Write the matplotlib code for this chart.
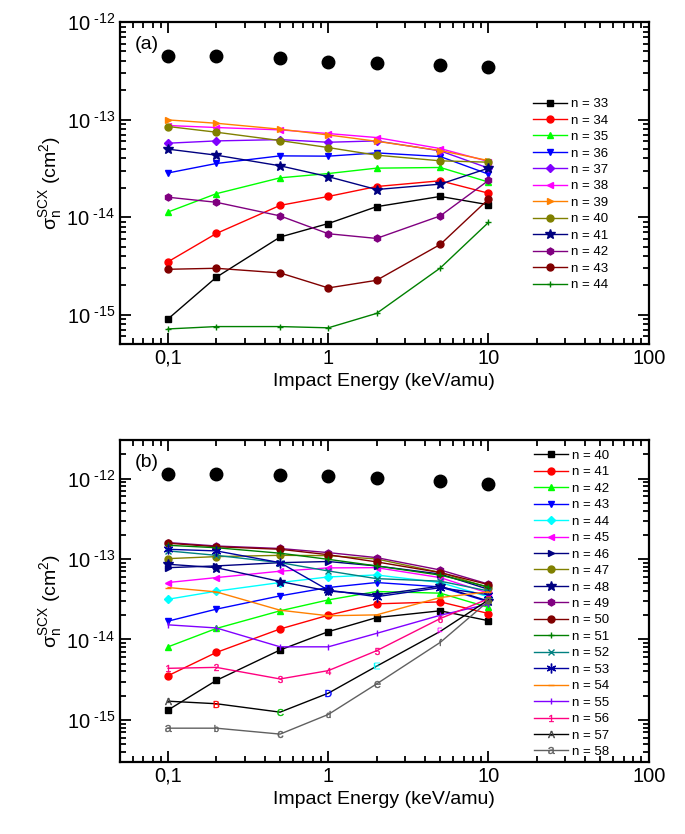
import math
import matplotlib
matplotlib.use('Agg')
import matplotlib.pyplot as plt
from matplotlib.ticker import FixedLocator, LogLocator, NullFormatter, FuncFormatter

plt.rcParams['font.family'] = ['Liberation Sans', 'DejaVu Sans']
plt.rcParams['mathtext.fontset'] = 'custom'
plt.rcParams['mathtext.rm'] = 'Liberation Sans'
plt.rcParams['mathtext.it'] = 'Liberation Sans:italic'
plt.rcParams['mathtext.bf'] = 'Liberation Sans:bold'

energy = [0.1, 0.2, 0.5, 1, 2, 5, 10]

# panel (a): total and n-resolved cross sections
total_a = [4.5e-13, 4.5e-13, 4.28e-13, 3.9e-13, 3.8e-13, 3.63e-13, 3.46e-13]
n_a = [33, 34, 35, 36, 37, 38, 39, 40, 41, 42, 43, 44]
vals_a = [
    [9.05e-16, 2.42e-15, 6.25e-15, 8.6e-15, 1.28e-14, 1.63e-14, 1.34e-14],
    [3.49e-15, 6.8e-15, 1.32e-14, 1.63e-14, 2.06e-14, 2.36e-14, 1.76e-14],
    [1.13e-14, 1.74e-14, 2.53e-14, 2.8e-14, 3.18e-14, 3.23e-14, 2.29e-14],
    [2.84e-14, 3.55e-14, 4.25e-14, 4.22e-14, 4.56e-14, 4.18e-14, 2.76e-14],
    [5.73e-14, 6.05e-14, 6.24e-14, 5.86e-14, 6.05e-14, 4.78e-14, 3.18e-14],
    [8.7e-14, 8.3e-14, 7.85e-14, 7.2e-14, 6.55e-14, 5.05e-14, 3.72e-14],
    [9.93e-14, 9.18e-14, 7.98e-14, 6.96e-14, 6.0e-14, 4.82e-14, 3.8e-14],
    [8.5e-14, 7.43e-14, 6.1e-14, 5.17e-14, 4.32e-14, 3.78e-14, 3.66e-14],
    [4.98e-14, 4.32e-14, 3.36e-14, 2.6e-14, 1.92e-14, 2.18e-14, 3.18e-14],
    [1.6e-14, 1.42e-14, 1.03e-14, 6.76e-15, 6.05e-15, 1.03e-14, 2.38e-14],
    [2.92e-15, 2.99e-15, 2.68e-15, 1.88e-15, 2.25e-15, 5.25e-15, 1.53e-14],
    [7.14e-16, 7.55e-16, 7.55e-16, 7.33e-16, 1.03e-15, 3.01e-15, 8.83e-15],
]
colors_a = ['black', 'red', '#00ff00', 'blue', '#8000ff', 'magenta', '#ff8000',
            '#808000', '#000080', '#800080', '#800000', '#008000']
markers_a = ['s', 'o', '^', 'v', 'D', '<', '>', 'o', '*', 'h', 'o', '+']

# panel (b)
total_b = [1.15e-12, 1.13e-12, 1.1e-12, 1.06e-12, 1.01e-12, 0.93e-12, 0.86e-12]
n_b = list(range(40, 59))
vals_b = [
    [1.33e-15, 3.1e-15, 7.4e-15, 1.25e-14, 1.87e-14, 2.27e-14, 1.71e-14],
    [3.55e-15, 6.9e-15, 1.35e-14, 2.0e-14, 2.77e-14, 2.93e-14, 2.1e-14],
    [8.1e-15, 1.37e-14, 2.27e-14, 3.1e-14, 3.94e-14, 3.76e-14, 2.5e-14],
    [1.69e-14, 2.38e-14, 3.48e-14, 4.42e-14, 5.1e-14, 4.5e-14, 2.93e-14],
    [3.16e-14, 3.98e-14, 5.1e-14, 5.98e-14, 6.33e-14, 5.1e-14, 3.38e-14],
    [5.1e-14, 5.87e-14, 7.05e-14, 7.75e-14, 7.8e-14, 5.87e-14, 3.76e-14],
    [7.8e-14, 8.2e-14, 9.0e-14, 9.3e-14, 8.2e-14, 6.5e-14, 4.2e-14],
    [1.01e-13, 1.07e-13, 1.11e-13, 1.1e-13, 1.0e-13, 6.8e-14, 4.4e-14],
    [8.6e-14, 7.8e-14, 5.25e-14, 4.0e-14, 3.58e-14, 4.6e-14, 3.0e-14],
    [1.6e-13, 1.45e-13, 1.35e-13, 1.2e-13, 1.04e-13, 7.3e-14, 4.87e-14],
    [1.57e-13, 1.42e-13, 1.32e-13, 1.13e-13, 9.2e-14, 6.78e-14, 4.8e-14],
    [1.48e-13, 1.38e-13, 1.18e-13, 9.9e-14, 8.2e-14, 6.3e-14, 4.5e-14],
    [1.26e-13, 1.11e-13, 9.0e-14, 7.1e-14, 5.7e-14, 5.3e-14, 4.0e-14],
    [1.32e-13, 1.26e-13, 9.0e-14, 4.1e-14, 3.4e-14, 4.4e-14, 3.6e-14],
    [4.42e-14, 3.9e-14, 2.31e-14, 1.97e-14, 2.02e-14, 3.32e-14, 3.9e-14],
    [1.52e-14, 1.39e-14, 8.1e-15, 8.1e-15, 1.19e-14, 2.0e-14, 2.75e-14],
    [4.38e-15, 4.5e-15, 3.23e-15, 4.1e-15, 7.24e-15, 1.82e-14, 3.2e-14],
    [1.71e-15, 1.59e-15, 1.25e-15, 2.15e-15, 4.65e-15, 1.26e-14, 3.1e-14],
    [7.9e-16, 7.9e-16, 6.67e-16, 1.17e-15, 2.8e-15, 9.2e-15, 3.0e-14],
]
colors_b = ['black', 'red', '#00ff00', 'blue', 'cyan', 'magenta', '#000080',
            '#808000', '#000080', '#800080', '#800000', '#008000', '#008080',
            '#0000a0', '#ff8000', '#8000ff', '#ff0080', 'black', '#606060']
markers_b = ['s', 'o', '^', 'v', 'D', '<', '>', 'o', '*', 'h', 'o', '+', 'x',
             (6, 2, 0), '_', '|', None, None, None]

# character markers used for the last three series in (b)
digits_56 = ['1', '2', '3', '4', '5', '6', '7']
letters_57 = ['A', 'B', 'C', 'D', 'E', 'F', 'G']
letter_cols_57 = ['#404040', 'red', '#00c000', 'blue', 'cyan', 'magenta', '#808000']
letters_58 = ['a', 'b', 'c', 'd', 'e', 'f', 'g']


def fmt_x(v, pos):
    if v == 0.1:
        return '0,1'
    return '%g' % v


def fmt_y(v, pos):
    e = int(round(math.log10(v)))
    return r'$\mathregular{10^{\ \text{-}%d}}$' % abs(e)


def style_axes(ax, ylim, label):
    ax.set_xscale('log')
    ax.set_yscale('log')
    ax.set_xlim(0.05, 100)
    ax.set_ylim(*ylim)
    ax.xaxis.set_major_locator(FixedLocator([0.1, 1, 10, 100]))
    ax.xaxis.set_major_formatter(FuncFormatter(fmt_x))
    ax.xaxis.set_minor_locator(LogLocator(base=10, subs=range(2, 10), numticks=20))
    ax.xaxis.set_minor_formatter(NullFormatter())
    ax.yaxis.set_major_locator(FixedLocator([1e-15, 1e-14, 1e-13, 1e-12]))
    ax.yaxis.set_major_formatter(FuncFormatter(fmt_y))
    ax.yaxis.set_minor_locator(LogLocator(base=10, subs=range(2, 10), numticks=20))
    ax.yaxis.set_minor_formatter(NullFormatter())
    ax.tick_params(which='both', direction='in', top=True, right=True, width=1.3)
    ax.tick_params(which='major', length=8, labelsize=14.5)
    ax.tick_params(which='minor', length=4.5)
    for s in ax.spines.values():
        s.set_linewidth(1.6)
    ax.set_xlabel('Impact Energy (keV/amu)', fontsize=14)
    ax.set_ylabel(r'$\mathregular{\sigma_n^{SCX}}$ (cm$^\mathregular{2}$)',
                  fontsize=14, labelpad=2)
    ax.text(0.028, 0.93, label, transform=ax.transAxes, fontsize=14, va='center')


fig = plt.figure(figsize=(6.85, 8.34), dpi=100)
ax1 = fig.add_axes([0.175, 0.5875, 0.772, 0.386])
ax2 = fig.add_axes([0.175, 0.0863, 0.772, 0.386])

# (a)
ax1.plot(energy, total_a, 'o', color='black', ms=9, ls='none')
for n, v, c, m in zip(n_a, vals_a, colors_a, markers_a):
    ms = {'*': 7, 'D': 4.2}.get(m, 5)
    ax1.plot(energy, v, color=c, marker=m, ms=ms, lw=1, label='n = %d' % n)
style_axes(ax1, (5e-16, 1e-12), '(a)')
ax1.legend(loc='upper left', bbox_to_anchor=(0.768, 0.785), frameon=False,
           fontsize=9.5, handlelength=2.6, handletextpad=0.3, labelspacing=0.32,
           borderpad=0)

# (b)
ax2.plot(energy, total_b, 'o', color='black', ms=9, ls='none')
for i, (n, v, c, m) in enumerate(zip(n_b, vals_b, colors_b, markers_b)):
    if m is not None:
        ms = {'*': 7, (6, 2, 0): 7, 'D': 4.2}.get(m, 5)
        ax2.plot(energy, v, color=c, marker=m, ms=ms, lw=1, label='n = %d' % n)
    else:
        if n == 56:
            chars, cols = digits_56, [c] * 7
        elif n == 57:
            chars, cols = letters_57, letter_cols_57
        else:
            chars, cols = letters_58, [c] * 7
        ax2.plot(energy, v, color=c, lw=1, marker=r'$\mathregular{%s}$' % chars[0],
                 ms=5, mfc=cols[0], mec=cols[0], mew=0.3, markevery=[0],
                 label='n = %d' % n)
        for x, y, ch, cc in zip(energy[1:], v[1:], chars[1:], cols[1:]):
            ax2.plot([x], [y], ls='none', marker=r'$\mathregular{%s}$' % ch,
                     ms=5, mew=0.3, color=cc)
style_axes(ax2, (3e-16, 3e-12), '(b)')
ax2.legend(loc='upper left', bbox_to_anchor=(0.768, 0.995), frameon=False,
           fontsize=9.5, handlelength=2.6, handletextpad=0.3, labelspacing=0.32,
           borderpad=0.1)

fig.savefig('out.png', dpi=100)
